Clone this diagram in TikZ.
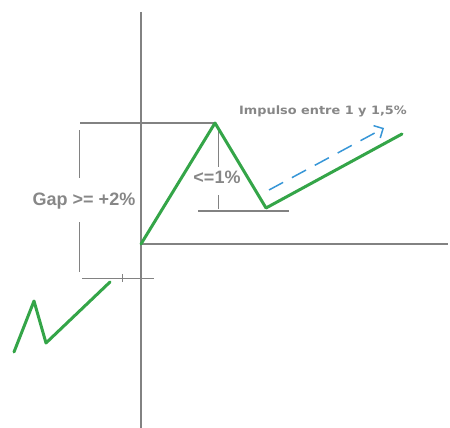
\documentclass[tikz,border=0pt]{standalone}
\usepackage{fontspec}
\setmainfont{Liberation Sans}
\newfontfamily\djv{DejaVu Sans}
\usetikzlibrary{arrows.meta}
\definecolor{lgreen}{RGB}{52,165,72}
\definecolor{lgray}{RGB}{130,130,130}
\definecolor{tgray}{RGB}{135,135,135}
\definecolor{lblue}{RGB}{55,150,215}
\tikzset{
  axis/.style={draw=lgray,line width=1.3pt},
  thin/.style={draw=lgray,line width=0.9pt},
  price/.style={draw=lgreen,line width=3pt,line join=round,line cap=round},
  lbl/.style={text=tgray,inner sep=0pt,font=\bfseries\fontsize{18}{18}\selectfont},
}
\begin{document}
\begin{tikzpicture}[x=1pt,y=-1pt]
\useasboundingbox (0,0) rectangle (450,428);
% axes
\coordinate (vtop) at (141,12);
\coordinate (vbot) at (141,428);
\coordinate (o) at (141,244);
\coordinate (hend) at (448,244);
\path[axis] (vtop) -- (vbot);
\path[axis] (o) -- (hend);
% top gray line
\coordinate (tl) at (80,123);
\coordinate (tr) at (215,123);
\path[axis] (tl) -- (tr);
% bottom gray line with tick
\coordinate (bl) at (82,278);
\coordinate (br) at (154,278);
\coordinate (tk1) at (122,274);
\coordinate (tk2) at (122,282);
\path[thin] (bl) -- (br);
\path[thin] (tk1) -- (tk2);
% gap label and vertical measure
\node[lbl] (gap) at (84,201) {Gap >= +2\%};
\coordinate (g1) at (79,130);
\coordinate (g1e) at (79,178);
\coordinate (g2s) at (79,222);
\coordinate (g2) at (79,272);
\path[thin] (g1) -- (g1e);
\path[thin] (g2s) -- (g2);
% trough gray line
\coordinate (ml) at (198,211);
\coordinate (mr) at (289,211);
\path[axis] (ml) -- (mr);
% <=1% label and vertical
\node[lbl] (one) at (217,177) {<=1\%};
\coordinate (m1) at (218,130);
\coordinate (m1e) at (218,167);
\coordinate (m2s) at (218,195);
\coordinate (m2) at (218,209);
\path[thin] (m1) -- (m1e);
\path[thin] (m2s) -- (m2);
% green price lines
\coordinate (p1) at (14,352);
\coordinate (p2) at (34,301);
\coordinate (p3) at (46,343);
\coordinate (p4) at (110,282);
\path[price] (p1) -- (p2) -- (p3) -- (p4);
\coordinate (q2) at (215,123);
\coordinate (q3) at (266,208);
\coordinate (q4) at (402,134);
\path[price] (o) -- (q2) -- (q3) -- (q4);
% blue dashed arrow
\coordinate (a1) at (269,190);
\coordinate (a2) at (384,128);
\draw[lblue,line width=1.5pt,dash pattern=on 16pt off 10pt,-{Straight Barb[length=7pt,width=14pt]}] (a1) -- (a2);
% impulso label
\node[text=tgray,inner sep=0pt,xscale=1.12,font=\djv\bfseries\fontsize{11.5}{12}\selectfont] (imp) at (323,111) {Impulso entre 1 y 1,5\%};
\end{tikzpicture}
\end{document}
